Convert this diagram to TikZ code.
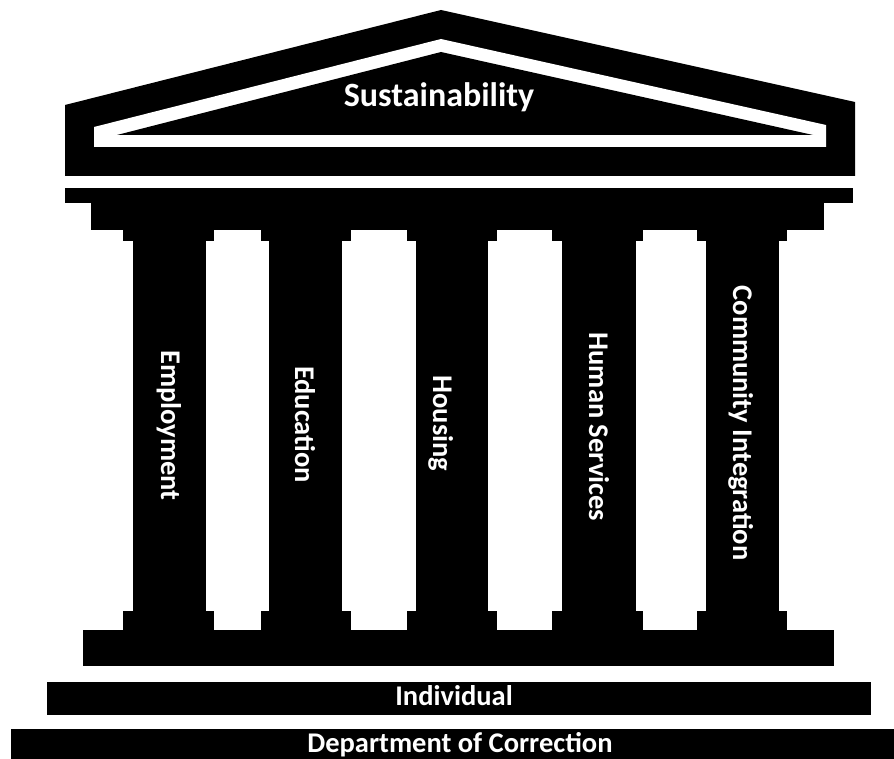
\documentclass[tikz,border=0pt]{standalone}
\usepackage{fontspec}
\setmainfont{Carlito}
\begin{document}
\begin{tikzpicture}[x=1pt,y=-1pt,
  blk/.style={fill=black,draw=none},
  wht/.style={fill=white,draw=none},
  lbl/.style={text=white,inner sep=0pt,anchor=base,font=\bfseries\fontsize{28.5}{30}\selectfont},
  biglbl/.style={text=white,inner sep=0pt,anchor=base,font=\bfseries\fontsize{34}{36}\selectfont},
  vlbl/.style={lbl,rotate=-90}]
\useasboundingbox (0,0) rectangle (894,759);
% roof
\fill[blk] (65,105) -- (441,10) -- (855,102) -- (855,176) -- (65,176) -- cycle;
\fill[wht] (94,127) -- (441,39) -- (826,125) -- (826,147) -- (94,147) -- cycle;
\fill[blk] (117,135) -- (441,52) -- (813,135) -- cycle;
\node[biglbl] (sust) at (439,107) {Sustainability};
% entablature
\fill[blk] (65,188) rectangle (853,203);
\fill[blk] (91,203) rectangle (824,230);
% columns: cap x-range, shaft x-range
\foreach \ca/\cb/\sa/\sb in {123/214/133/206, 261/351/269/342, 407/497/416/488, 552/643/562/636, 697/787/706/779}{
  \fill[blk] (\ca,230) rectangle (\cb,241);
  \fill[blk] (\sa,241) rectangle (\sb,611);
  \fill[blk] (\ca,611) rectangle (\cb,630);
}
% plinth
\fill[blk] (83,630) rectangle (834,666);
% column labels
\node[vlbl] (emp) at (161,425.5) {Employment};
\node[vlbl] (edu) at (295,424.5) {Education};
\node[vlbl] (hou) at (433,423.5) {Housing};
\node[vlbl] (hum) at (589,427) {Human Services};
\node[vlbl] (com) at (733,423) {Community Integration};
% base bars
\fill[blk] (47,682) rectangle (871,715);
\node[lbl] (ind) at (454,705) {Individual};
\fill[blk] (11,729) rectangle (894,759);
\node[lbl] (doc) at (460,752) {Department of Correction};
\end{tikzpicture}
\end{document}
